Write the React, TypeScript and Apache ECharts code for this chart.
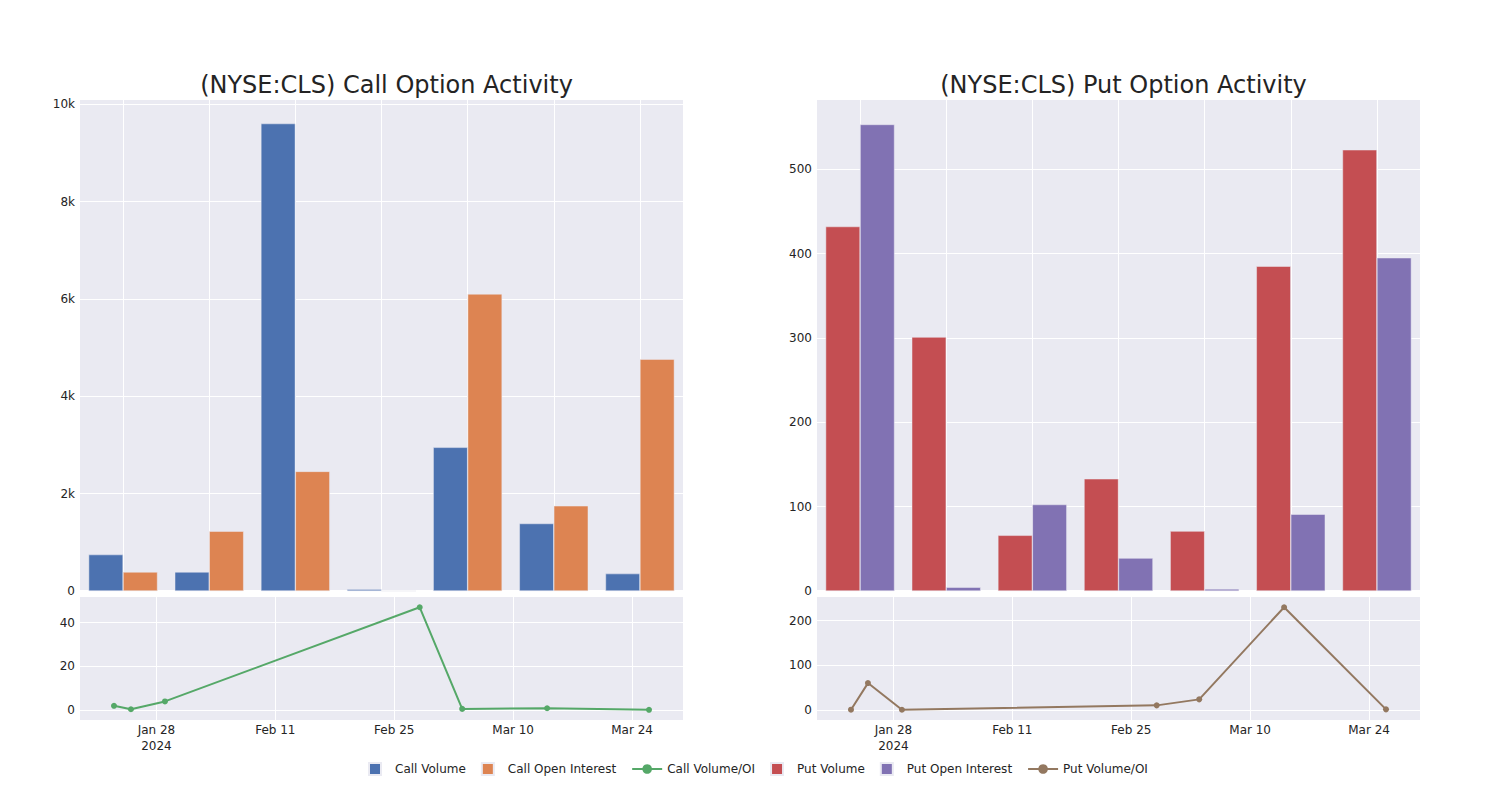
import React, { useEffect, useRef } from "react";
import * as echarts from "echarts";

// ---- data ----
const barGroups = ["G1", "G2", "G3", "G4", "G5", "G6", "G7"];
const callVolume = [748, 391, 9602, 34, 2951, 1386, 357];
const callOpenInterest = [391, 1229, 2457, 0, 6102, 1750, 4763];
const putVolume = [432, 301, 66, 133, 71, 385, 523];
const putOpenInterest = [553, 4.4, 102.5, 39, 2.4, 91, 395];

const ratioDates = ["2024-01-23", "2024-01-25", "2024-01-29", "2024-02-28", "2024-03-04", "2024-03-14", "2024-03-26"];
const callVolumeOI = [1.91, 0.32, 3.9, 47.0, 0.48, 0.79, 0.075];
const putVolumeOI = [0.8, 60.2, 0.64, 10.4, 23.8, 229.7, 1.5];

const dateTicks = ["2024-01-28", "2024-02-11", "2024-02-25", "2024-03-10", "2024-03-24"];
const dateTickLabels = ["Jan 28\n2024", "Feb 11", "Feb 25", "Mar 10", "Mar 24"];
const dateMin = "2024-01-19";
const dateMax = "2024-03-30";

const callTicks = [0, 2000, 4000, 6000, 8000, 10000];
const putTicks = [0, 100, 200, 300, 400, 500];
const callRatioTicks = [0, 20, 40];
const putRatioTicks = [0, 100, 200];

const titles = ["(NYSE:CLS) Call Option Activity", "(NYSE:CLS) Put Option Activity"];

// ---- styles ----
const FONT = "DejaVu Sans";
const TEXT = "rgb(36,36,36)";
const BG = "rgb(234,234,242)";
const C_BLUE = "rgb(76,114,176)";
const C_ORANGE = "rgb(221,132,82)";
const C_GREEN = "rgb(85,168,104)";
const C_RED = "rgb(196,78,82)";
const C_PURPLE = "rgb(129,114,179)";
const C_BROWN = "rgb(147,120,96)";

const ts = (d: string) => new Date(d + "T00:00:00Z").getTime();

export default function App() {
  const ref = useRef<HTMLDivElement>(null);

  useEffect(() => {
    if (!ref.current) return;
    const chart = echarts.init(ref.current, undefined, { renderer: "svg" });

    const gridBase = { show: true, backgroundColor: BG, borderWidth: 0, containLabel: false };
    const white = { color: "#ffffff", width: 1 };

    const tickVals = dateTicks.map(ts);
    const dateFmt = (v: number) => {
      const i = tickVals.findIndex((t) => Math.abs(t - v) < 1000);
      return i >= 0 ? dateTickLabels[i] : "";
    };

    const catAxis = (gi: number) => ({
      type: "category",
      gridIndex: gi,
      data: barGroups,
      axisLabel: { show: false },
      axisTick: { show: false },
      axisLine: { show: true, lineStyle: { color: "#ffffff", width: 2 } },
      splitLine: { show: true, alignWithLabel: true, lineStyle: white },
    });

    const dateAxis = (gi: number) => ({
      type: "value",
      gridIndex: gi,
      min: ts(dateMin),
      max: ts(dateMax),
      axisLine: { show: false },
      axisTick: { show: false, customValues: tickVals },
      axisLabel: {
        customValues: tickVals,
        formatter: dateFmt,
        color: TEXT,
        fontSize: 12,
        fontFamily: FONT,
        lineHeight: 16,
        margin: 2,
      },
      splitLine: { show: true, lineStyle: white },
    });

    const valAxis = (gi: number, min: number, max: number, ticks: number[], fmt?: (v: number) => string) => ({
      type: "value",
      gridIndex: gi,
      min,
      max,
      axisLine: { show: false },
      axisTick: { show: false, customValues: ticks },
      axisLabel: {
        customValues: ticks,
        formatter: fmt ?? ((v: number) => String(v)),
        color: TEXT,
        fontSize: 12,
        fontFamily: FONT,
        margin: 5,
      },
      splitLine: { show: true, lineStyle: white },
    });

    const kFmt = (v: number) => (v === 0 ? "0" : v / 1000 + "k");

    const barStyle = (c: string) => ({ color: c, borderColor: BG, borderWidth: 0.5 });

    const squareIcon = "path://M0,0H12V12H0Z";

    chart.setOption({
      animation: false,
      textStyle: { fontFamily: FONT, color: TEXT },
      title: [
        { text: titles[0], left: 381.5, top: 68, textAlign: "center", textStyle: { fontFamily: FONT, fontSize: 24, fontWeight: "normal", color: TEXT } },
        { text: titles[1], left: 1118.5, top: 68, textAlign: "center", textStyle: { fontFamily: FONT, fontSize: 24, fontWeight: "normal", color: TEXT } },
      ],
      legend: {
        top: 757,
        left: 363,
        itemWidth: 30,
        itemHeight: 12,
        itemGap: 15,
        textStyle: { fontFamily: FONT, fontSize: 12, color: TEXT },
        data: [
          { name: "Call Volume", icon: squareIcon },
          { name: "Call Open Interest", icon: squareIcon },
          { name: "Call Volume/OI" },
          { name: "Put Volume", icon: squareIcon },
          { name: "Put Open Interest", icon: squareIcon },
          { name: "Put Volume/OI" },
        ],
      },
      grid: [
        { ...gridBase, left: 80, top: 100, width: 603, height: 491 },
        { ...gridBase, left: 80, top: 597, width: 603, height: 123 },
        { ...gridBase, left: 817, top: 100, width: 603, height: 491 },
        { ...gridBase, left: 817, top: 597, width: 603, height: 123 },
      ],
      xAxis: [catAxis(0), dateAxis(1), catAxis(2), dateAxis(3)],
      yAxis: [
        valAxis(0, 0, 10086, callTicks, kFmt),
        valAxis(1, -4.6, 51.7, callRatioTicks),
        valAxis(2, 0, 582, putTicks),
        valAxis(3, -22.3, 252.6, putRatioTicks),
      ],
      series: [
        { name: "Call Volume", type: "bar", xAxisIndex: 0, yAxisIndex: 0, data: callVolume, itemStyle: barStyle(C_BLUE), barGap: "0%", barCategoryGap: "20%" },
        { name: "Call Open Interest", type: "bar", xAxisIndex: 0, yAxisIndex: 0, data: callOpenInterest, itemStyle: barStyle(C_ORANGE), barGap: "0%", barCategoryGap: "20%" },
        {
          name: "Call Volume/OI", type: "line", xAxisIndex: 1, yAxisIndex: 1,
          data: ratioDates.map((d, i) => [ts(d), callVolumeOI[i]]),
          symbol: "circle", symbolSize: 6, showSymbol: true,
          lineStyle: { color: C_GREEN, width: 2 }, itemStyle: { color: C_GREEN },
        },
        { name: "Put Volume", type: "bar", xAxisIndex: 2, yAxisIndex: 2, data: putVolume, itemStyle: barStyle(C_RED), barGap: "0%", barCategoryGap: "20%" },
        { name: "Put Open Interest", type: "bar", xAxisIndex: 2, yAxisIndex: 2, data: putOpenInterest, itemStyle: barStyle(C_PURPLE), barGap: "0%", barCategoryGap: "20%" },
        {
          name: "Put Volume/OI", type: "line", xAxisIndex: 3, yAxisIndex: 3,
          data: ratioDates.map((d, i) => [ts(d), putVolumeOI[i]]),
          symbol: "circle", symbolSize: 6, showSymbol: true,
          lineStyle: { color: C_BROWN, width: 2 }, itemStyle: { color: C_BROWN },
        },
      ],
    });

    return () => chart.dispose();
  }, []);

  return (
    <div
      ref={ref}
      style={{ position: "fixed", left: 0, top: 0, width: 1500, height: 800, background: "#ffffff" }}
    />
  );
}
